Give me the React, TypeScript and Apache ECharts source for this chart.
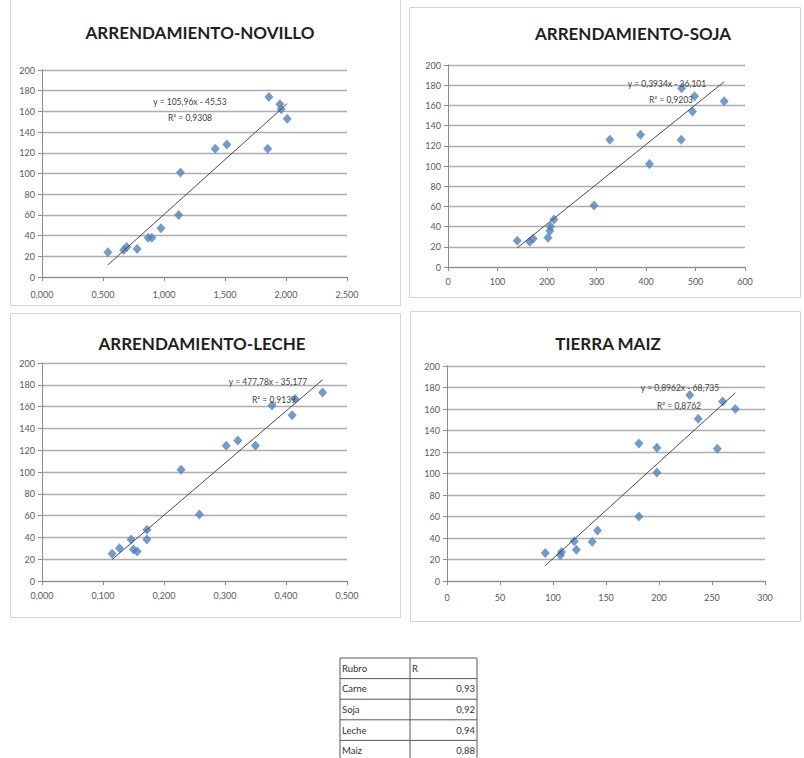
import React, { useEffect, useRef } from "react";
import * as echarts from "echarts";

const titles = ["ARRENDAMIENTO-NOVILLO", "ARRENDAMIENTO-SOJA", "ARRENDAMIENTO-LECHE", "TIERRA MAIZ"];

const novilloX = [0.54, 0.67, 0.695, 0.78, 0.87, 0.9, 0.975, 1.12, 1.135, 1.42, 1.515, 1.85, 1.86, 1.95, 1.96, 2.01];
const novilloY = [24, 26, 29, 27, 38, 38, 47, 60, 101, 124, 128, 124, 174, 167, 162, 153];

const sojaX = [140, 165, 172, 202, 206, 207, 214, 295, 327, 389, 407, 471, 472, 498, 494, 558];
const sojaY = [26, 25, 28, 29, 36, 40, 47, 61, 126, 131, 102, 126, 177, 169, 154, 164];

const lecheX = [0.115, 0.127, 0.146, 0.15, 0.156, 0.172, 0.172, 0.228, 0.258, 0.302, 0.321, 0.35, 0.377, 0.41, 0.415, 0.46];
const lecheY = [25, 30, 38, 29, 27, 38, 47, 102, 61, 124, 129, 124, 161, 152, 167, 173];

const maizX = [92.7, 107, 108, 120, 122, 137, 142, 181, 181, 198, 198, 229, 237, 255, 260, 272];
const maizY = [26, 24, 27, 37, 29, 36.5, 47, 60, 128, 124, 101, 173, 151, 123, 167, 160];

const slopes = [105.96, 0.3934, 477.78, 0.8962];
const intercepts = [-45.53, -36.101, -35.177, -68.735];
const eqLabels = ["y = 105,96x - 45,53", "y = 0,3934x - 36,101", "y = 477,78x - 35,177", "y = 0,8962x - 68,735"];
const r2Labels = ["R² = 0,9308", "R² = 0,9203", "R² = 0,9139", "R² = 0,8762"];

const xMaxes = [2.5, 600, 0.5, 300];
const xIntervals = [0.5, 100, 0.1, 50];
const xDecimals = [3, 0, 3, 0];
const yMax = 200;
const yInterval = 20;

const tableHeader = ["Rubro", "R"];
const tableRubro = ["Carne", "Soja", "Leche", "Maiz"];
const tableR = ["0,93", "0,92", "0,94", "0,88"];

const allX = [novilloX, sojaX, lecheX, maizX];
const allY = [novilloY, sojaY, lecheY, maizY];

// layout
const grids = [
  { left: 42, top: 70, width: 305, height: 207 },
  { left: 448, top: 65, width: 297, height: 202 },
  { left: 42, top: 363, width: 305, height: 218 },
  { left: 447, top: 366, width: 318, height: 215 },
];
const frames = [
  { x: 10, y: -2, w: 390, h: 307 },
  { x: 409, y: 7, w: 391, h: 290 },
  { x: 10, y: 313, w: 390, h: 304 },
  { x: 410, y: 311, w: 390, h: 310 },
];
const titlePos = [
  [200, 32],
  [633, 33],
  [202, 343],
  [608, 343],
];
const eqPos = [
  [190, 102, 190, 118],
  [667, 84, 671, 100],
  [268, 382, 274, 400],
  [680, 388, 679, 406],
];
const xLabelMargin = [13, 10, 10, 12];

const FONT = "Lato, 'Liberation Sans', sans-serif";

export default function App() {
  const ref = useRef<HTMLDivElement>(null);
  useEffect(() => {
    document.body.style.margin = "0";
    if (!ref.current) return;
    const chart = echarts.init(ref.current, undefined, { renderer: "svg" });

    const xAxis: any[] = [];
    const yAxis: any[] = [];
    const series: any[] = [];
    const graphic: any[] = [];

    frames.forEach((f) => {
      graphic.push({
        type: "rect",
        shape: { x: f.x + 0.5, y: f.y + 0.5, width: f.w, height: f.h },
        style: { fill: "none", stroke: "#d4d4d4", lineWidth: 1 },
        z: 0,
      });
    });

    for (let i = 0; i < 4; i++) {
      xAxis.push({
        type: "value",
        gridIndex: i,
        min: 0,
        max: xMaxes[i],
        interval: xIntervals[i],
        splitLine: { show: false },
        axisLine: { show: true, onZero: false, lineStyle: { color: "#8c8c8c", width: 1 } },
        axisTick: { show: true, inside: false, length: 4, lineStyle: { color: "#8c8c8c" } },
        axisLabel: {
          margin: xLabelMargin[i],
          fontFamily: FONT,
          fontSize: 9,
          color: "#595959",
          formatter: (v: number) => v.toFixed(xDecimals[i]).replace(".", ","),
        },
      });
      yAxis.push({
        type: "value",
        gridIndex: i,
        min: 0,
        max: yMax,
        interval: yInterval,
        splitLine: { show: true, lineStyle: { color: "#adadad", width: 1.3 } },
        axisLine: { show: true, lineStyle: { color: "#8c8c8c", width: 1 } },
        axisTick: { show: true, inside: false, length: 4, lineStyle: { color: "#8c8c8c" } },
        axisLabel: { margin: 7, fontFamily: FONT, fontSize: 9, color: "#595959" },
      });
      const pts = allX[i].map((x, k) => [x, allY[i][k]]);
      series.push({
        type: "scatter",
        xAxisIndex: i,
        yAxisIndex: i,
        symbol: "diamond",
        symbolSize: [9, 10],
        itemStyle: { color: "#4f81bd" },
        data: pts,
        z: 3,
      });
      const xmin = Math.min(...allX[i]);
      const xmax = Math.max(...allX[i]);
      series.push({
        type: "line",
        xAxisIndex: i,
        yAxisIndex: i,
        symbol: "none",
        lineStyle: { color: "#4a4a4a", width: 1 },
        data: [
          [xmin, slopes[i] * xmin + intercepts[i]],
          [xmax, slopes[i] * xmax + intercepts[i]],
        ],
        z: 4,
      });
      graphic.push({
        type: "text",
        x: titlePos[i][0],
        y: titlePos[i][1],
        style: {
          text: titles[i],
          fontFamily: FONT,
          fontWeight: "bold",
          fontSize: 17,
          fill: "#1f1f1f",
          align: "center",
          verticalAlign: "middle",
        },
      });
      graphic.push({
        type: "text",
        x: eqPos[i][0],
        y: eqPos[i][1],
        z: 10,
        style: {
          text: eqLabels[i],
          fontFamily: FONT,
          fontSize: 8.5,
          fill: "#404040",
          align: "center",
          verticalAlign: "middle",
        },
      });
      graphic.push({
        type: "text",
        x: eqPos[i][2],
        y: eqPos[i][3],
        z: 10,
        style: {
          text: r2Labels[i],
          fontFamily: FONT,
          fontSize: 8.5,
          fill: "#404040",
          align: "center",
          verticalAlign: "middle",
        },
      });
    }

    // table
    const tx0 = 340, tx1 = 410, tx2 = 477, ty0 = 658, rh = 20.6;
    const nRows = tableRubro.length + 1;
    for (let r = 0; r <= nRows; r++) {
      const y = ty0 + r * rh;
      graphic.push({
        type: "line",
        shape: { x1: tx0, y1: y, x2: tx2, y2: y },
        style: { stroke: "#595959", lineWidth: 1 },
      });
    }
    [tx0, tx1, tx2].forEach((x) => {
      graphic.push({
        type: "line",
        shape: { x1: x, y1: ty0, x2: x, y2: ty0 + nRows * rh },
        style: { stroke: "#595959", lineWidth: 1 },
      });
    });
    const cellText = (text: string, x: number, y: number, align: string) => ({
      type: "text",
      x,
      y,
      style: { text, fontFamily: FONT, fontSize: 9.5, fill: "#333333", align, verticalAlign: "middle" },
    });
    graphic.push(cellText(tableHeader[0], tx0 + 2, ty0 + rh / 2, "left"));
    graphic.push(cellText(tableHeader[1], tx1 + 2, ty0 + rh / 2, "left"));
    tableRubro.forEach((name, k) => {
      const y = ty0 + (k + 1) * rh + rh / 2;
      graphic.push(cellText(name, tx0 + 2, y, "left"));
      graphic.push(cellText(tableR[k], tx2 - 2, y, "right"));
    });

    chart.setOption({
      animation: false,
      backgroundColor: "#ffffff",
      grid: grids.map((g) => ({ ...g, containLabel: false })),
      xAxis,
      yAxis,
      series,
      graphic,
    });
    return () => chart.dispose();
  }, []);
  return <div ref={ref} style={{ position: "absolute", left: 0, top: 0, width: 804, height: 758 }} />;
}
